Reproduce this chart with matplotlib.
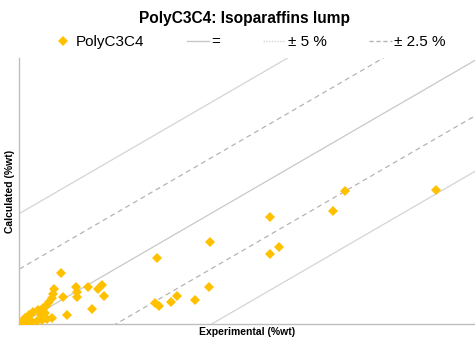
import numpy as np
import matplotlib.pyplot as plt
from matplotlib.lines import Line2D

plt.rcParams['font.family'] = ['Liberation Sans', 'DejaVu Sans']

# experimental vs calculated isoparaffins (%wt)
experimental = [10.87, 8.50, 8.19, 6.54, 6.78, 6.54, 4.97, 4.95, 4.58, 4.11,
                3.96, 3.64, 3.54, 3.59, 1.08, 1.48, 1.50, 1.50, 1.79, 2.05,
                2.15, 2.21, 1.89, 1.24, 1.14, 0.90, 0.87, 0.85, 0.77, 0.69,
                0.61, 0.48, 0.35, 0.25, 0.14, 0.07, 0.01, 0.20, 0.33, 0.46,
                0.59, 0.72, 0.85, 0.56, 0.67, 0.27, 0.12]
calculated = [6.06, 6.01, 5.11, 4.84, 3.49, 3.18, 3.72, 1.69, 1.10, 1.28,
              1.01, 0.83, 0.97, 3.00, 2.32, 1.69, 1.46, 1.24, 1.69, 1.60,
              1.78, 1.28, 0.70, 0.43, 1.24, 1.60, 1.37, 1.19, 1.01, 0.83,
              0.74, 0.65, 0.56, 0.43, 0.29, 0.11, 0.02, 0.07, 0.11, 0.16,
              0.20, 0.25, 0.29, 0.43, 0.52, 0.20, 0.02]

# parity line and error bands
band_5 = 5.0
band_25 = 2.5

fig = plt.figure(figsize=(4.75, 3.38), dpi=100)
ax = fig.add_axes([0.041, 0.040, 0.959, 0.788])

xs = np.array([0, 12])
grey_eq = '#c8c8c8'
grey_5 = '#d4d4d4'
grey_25 = '#b4b4b4'
ax.plot(xs, xs, color=grey_eq, lw=0.9, zorder=1)
for s in (1, -1):
    ax.plot(xs, xs + s * band_5, color=grey_5, lw=0.9, zorder=1)
    ax.plot(xs, xs + s * band_25, color=grey_25, lw=0.9,
            linestyle=(0, (4, 3)), zorder=1)

ax.plot(experimental, calculated, linestyle='none', marker='D',
        markersize=5.5, color='#FFC000', markeredgewidth=0, zorder=3)

ax.set_xlim(0, 11.9)
ax.set_ylim(0, 12)
ax.set_xticks([])
ax.set_yticks([])
for side in ('top', 'right'):
    ax.spines[side].set_visible(False)
for side in ('left', 'bottom'):
    ax.spines[side].set_color('#bfbfbf')
    ax.spines[side].set_linewidth(1.0)

ax.set_xlabel('Experimental (%wt)', fontsize=7.5, fontweight='bold', labelpad=2)
ax.set_ylabel('Calculated (%wt)', fontsize=7.5, fontweight='bold', labelpad=3)

fig.text(0.514, 0.946, 'PolyC3C4: Isoparaffins lump', ha='center', va='center',
         fontsize=11.2, fontweight='bold')

handles = [
    Line2D([], [], linestyle='none', marker='D', markersize=5,
           color='#FFC000', markeredgewidth=0),
    Line2D([], [], color=grey_eq, lw=1.0),
    Line2D([], [], color=grey_5, lw=1.0, linestyle=(0, (1, 1))),
    Line2D([], [], color=grey_25, lw=1.0, linestyle=(0, (3, 2))),
]
labels = ['PolyC3C4', '=', '± 5 %', '± 2.5 %']
fig.legend(handles, labels, loc='center', bbox_to_anchor=(0.523, 0.876),
           ncol=4, frameon=False, fontsize=11, handlelength=1.45,
           handletextpad=0.15, columnspacing=2.8, borderpad=0.2)

fig.savefig('out.png', dpi=100)
